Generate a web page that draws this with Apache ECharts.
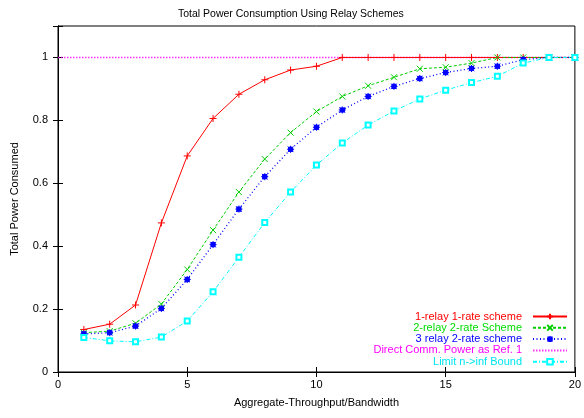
<!DOCTYPE html>
<html>
<head>
<meta charset="utf-8">
<script src="https://cdn.jsdelivr.net/npm/echarts@6/dist/echarts.min.js"></script>
<style>
  html, body { margin: 0; padding: 0; background: #fff; }
  #chart { width: 584px; height: 418px; }
</style>
</head>
<body>
<div id="chart"></div>
<script>
const xValues = [1, 2, 3, 4, 5, 6, 7, 8, 9, 10, 11, 12, 13, 14, 15, 16, 17, 18, 19, 20];
const oneRelay = [0.135, 0.152, 0.213, 0.474, 0.687, 0.806, 0.883, 0.929, 0.960, 0.972, 1, 1, 1, 1, 1, 1, 1, 1, 1, 1];
const twoRelay = [0.125, 0.130, 0.155, 0.216, 0.326, 0.451, 0.572, 0.677, 0.761, 0.828, 0.876, 0.910, 0.937, 0.964, 0.969, 0.982, 1, 1, 1, 1];
const threeRelay = [0.121, 0.125, 0.146, 0.202, 0.294, 0.405, 0.518, 0.621, 0.708, 0.778, 0.833, 0.876, 0.908, 0.933, 0.952, 0.965, 0.972, 0.993, 1, 1];
const limitBound = [0.110, 0.099, 0.096, 0.111, 0.162, 0.255, 0.365, 0.475, 0.572, 0.658, 0.728, 0.785, 0.830, 0.868, 0.896, 0.920, 0.940, 0.982, 1, 1];
const refX = [0, 20];
const refY = [1, 1];

const font = "'Liberation Sans', Arial, sans-serif";
const pair = (xs, ys) => xs.map((x, i) => [x, ys[i]]);

const plusSym = 'path://M0,-5L0,5M-5,0L5,0';
const crossSym = 'path://M-5,-5L5,5M-5,5L5,-5';
const starSym = 'path://M0,-5L0,5M-5,0L5,0M-4,-4L4,4M-4,4L4,-4M-3,-3L3,-3L3,3L-3,3Z';

const names = ['1-relay 1-rate scheme', '2-relay 2-rate Scheme', '3 relay 2-rate scheme', 'Direct Comm. Power as Ref. 1', 'Limit n->inf Bound'];
const colors = ['#ff0000', '#00cc00', '#0000ff', '#ff00ff', '#00ffff'];
const textColors = ['#ff0000', '#00dd00', '#0000ff', '#ff00ff', '#00e5ee'];

const chart = echarts.init(document.getElementById('chart'));

const legends = names.map((n, i) => {
  const item = { name: n, textStyle: { color: textColors[i] } };
  if (i === 3) item.itemStyle = { opacity: 0 };
  return {
    show: true,
    data: [item],
    right: 16,
    top: 311 + i * 11.3,
    padding: 0,
    align: 'right',
    itemWidth: 34,
    itemHeight: 7,
    itemGap: 0,
    selectedMode: false,
    textStyle: { fontFamily: font, fontSize: 11, padding: [0, 6, 0, 0] }
  };
});

const option = {
  animation: false,
  title: {
    text: 'Total Power Consumption Using Relay Schemes',
    left: 173,
    top: 4,
    textStyle: { fontFamily: font, fontSize: 10.5, fontWeight: 'normal', color: '#000' }
  },
  legend: legends,
  grid: { left: 58, right: 5, top: 26, bottom: 46, show: true, borderColor: '#000', borderWidth: 1 },
  xAxis: [
    {
      type: 'value', min: 0, max: 20, interval: 5,
      name: 'Aggregate-Throughput/Bandwidth', nameLocation: 'middle', nameGap: 25,
      nameTextStyle: { fontFamily: font, fontSize: 11, color: '#000' },
      axisLine: { lineStyle: { color: '#000' } },
      axisTick: { inside: true, length: 5, lineStyle: { color: '#000' } },
      axisLabel: { fontFamily: font, fontSize: 11, color: '#000', margin: 7 },
      splitLine: { show: false }
    },
    {
      type: 'value', min: 0, max: 20, interval: 5, position: 'top',
      axisLine: { show: true, lineStyle: { color: '#000' } },
      axisTick: { show: true, inside: true, length: 5, lineStyle: { color: '#000' } },
      axisLabel: { show: false },
      splitLine: { show: false }
    }
  ],
  yAxis: [
    {
      type: 'value', min: 0, max: 1.1, interval: 0.2,
      name: 'Total Power Consumed', nameLocation: 'middle', nameGap: 38,
      nameTextStyle: { fontFamily: font, fontSize: 11, color: '#000' },
      axisLine: { lineStyle: { color: '#000' } },
      axisTick: { inside: true, length: 5, lineStyle: { color: '#000' } },
      axisLabel: {
        fontFamily: font, fontSize: 11, color: '#000', margin: 10,
        formatter: v => (v > 1.05 ? '' : String(Math.round(v * 10) / 10))
      },
      splitLine: { show: false }
    },
    {
      type: 'value', min: 0, max: 1.1, interval: 0.2, position: 'right',
      axisLine: { show: true, lineStyle: { color: '#000' } },
      axisTick: { show: true, inside: true, length: 5, lineStyle: { color: '#000' } },
      axisLabel: { show: false },
      splitLine: { show: false }
    }
  ],
  series: [
    {
      name: names[0], type: 'line', data: pair(xValues, oneRelay),
      color: colors[0], symbol: plusSym, symbolSize: 7,
      lineStyle: { width: 1, color: colors[0] },
      itemStyle: { color: colors[0], borderColor: colors[0], borderWidth: 1 }
    },
    {
      name: names[1], type: 'line', data: pair(xValues, twoRelay),
      color: colors[1], symbol: crossSym, symbolSize: 6,
      lineStyle: { width: 1, color: colors[1], type: [3, 2] },
      itemStyle: { color: colors[1], borderColor: colors[1], borderWidth: 1 }
    },
    {
      name: names[2], type: 'line', data: pair(xValues, threeRelay),
      color: colors[2], symbol: starSym, symbolSize: 7,
      lineStyle: { width: 1.3, color: colors[2], type: [1, 2.5] },
      itemStyle: { color: colors[2], borderColor: colors[2], borderWidth: 1 }
    },
    {
      name: names[3], type: 'line', data: pair(refX, refY),
      color: colors[3], symbol: 'none', showSymbol: false, z: 1,
      lineStyle: { width: 1.5, color: colors[3], type: [1.5, 1.5], opacity: 0.8 },
      itemStyle: { color: colors[3] }
    },
    {
      name: names[4], type: 'line', data: pair(xValues, limitBound),
      color: colors[4], symbol: 'emptyRect', symbolSize: 5,
      lineStyle: { width: 1, color: colors[4], type: [4, 2, 1, 2] },
      itemStyle: { color: colors[4], borderColor: colors[4], borderWidth: 1 }
    }
  ]
};

chart.setOption(option);
</script>
</body>
</html>
